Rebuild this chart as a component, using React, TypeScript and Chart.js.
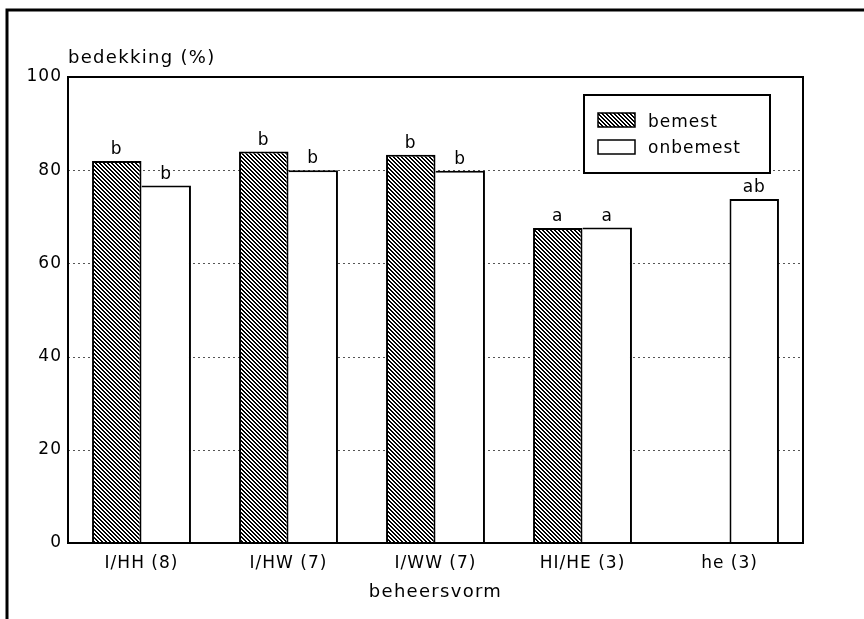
import React, { useEffect, useRef } from 'react';
import { Chart, registerables } from 'chart.js';

Chart.register(...registerables);

const categories = ['I/HH (8)', 'I/HW (7)', 'I/WW (7)', 'HI/HE (3)', 'he (3)'];
const bemest: (number | null)[] = [82.0, 84.0, 83.3, 67.6, null];
const onbemest: (number | null)[] = [76.7, 80.0, 79.9, 67.7, 73.8];
const bemestLetters = ['b', 'b', 'b', 'a', ''];
const onbemestLetters = ['b', 'b', 'b', 'a', 'ab'];
const yTicks = [0, 20, 40, 60, 80, 100];
const seriesNames = ['bemest', 'onbemest'];
const yTitle = 'bedekking (%)';
const xTitle = 'beheersvorm';

const FONT = '"DejaVu Sans", sans-serif';

function makeHatch(ctx: CanvasRenderingContext2D): CanvasPattern | string {
  const c = document.createElement('canvas');
  c.width = 4;
  c.height = 4;
  const g = c.getContext('2d');
  if (!g) return '#777';
  const img = g.createImageData(4, 4);
  for (let y = 0; y < 4; y++) {
    for (let x = 0; x < 4; x++) {
      const k = (((x - y) % 4) + 4) % 4;
      const v = k < 2 ? 0 : 255;
      const i = (y * 4 + x) * 4;
      img.data[i] = v;
      img.data[i + 1] = v;
      img.data[i + 2] = v;
      img.data[i + 3] = 255;
    }
  }
  g.putImageData(img, 0, 0);
  return ctx.createPattern(c, 'repeat') || '#777';
}

export default function App() {
  const ref = useRef<HTMLCanvasElement | null>(null);

  useEffect(() => {
    const canvas = ref.current;
    if (!canvas) return;
    const ctx0 = canvas.getContext('2d')!;
    const hatch = makeHatch(ctx0);

    const plugin = {
      id: 'custom',
      beforeUpdate(chart: any) {
        chart.ctx.letterSpacing = '1px';
      },
      beforeDraw(chart: any) {
        chart.ctx.letterSpacing = '1px';
      },
      beforeDatasetsDraw(chart: any) {
        const { ctx, chartArea } = chart;
        const ys = chart.scales.y;
        ctx.save();
        ctx.strokeStyle = '#555';
        ctx.lineWidth = 1;
        ctx.setLineDash([2, 3]);
        yTicks.forEach((v) => {
          if (v <= 0 || v >= 100) return;
          const y = Math.round(ys.getPixelForValue(v)) + 0.5;
          ctx.beginPath();
          ctx.moveTo(chartArea.left, y);
          ctx.lineTo(chartArea.right, y);
          ctx.stroke();
        });
        ctx.restore();
      },
      afterDatasetsDraw(chart: any) {
        const { ctx, chartArea } = chart;
        ctx.save();
        ctx.strokeStyle = '#000';
        ctx.lineWidth = 2;
        ctx.strokeRect(chartArea.left, chartArea.top, chartArea.right - chartArea.left, chartArea.bottom - chartArea.top);
        ctx.fillStyle = '#000';
        ctx.font = `17px ${FONT}`;
        ctx.letterSpacing = '1px';
        ctx.textAlign = 'center';
        ctx.textBaseline = 'alphabetic';
        const letterSets = [bemestLetters, onbemestLetters];
        const valueSets = [bemest, onbemest];
        [0, 1].forEach((di) => {
          const meta = chart.getDatasetMeta(di);
          meta.data.forEach((el: any, j: number) => {
            if (valueSets[di][j] == null) return;
            const t = letterSets[di][j];
            if (!t) return;
            ctx.fillText(t, el.x, el.y - 7);
          });
        });
        ctx.restore();
      },
      afterDraw(chart: any) {
        const { ctx, chartArea } = chart;
        ctx.save();
        ctx.letterSpacing = '1px';
        const lx = 584, ly = 95, lw = 186, lh = 78;
        ctx.fillStyle = '#fff';
        ctx.fillRect(lx, ly, lw, lh);
        ctx.strokeStyle = '#000';
        ctx.lineWidth = 2;
        ctx.strokeRect(lx, ly, lw, lh);
        const swatchFills = [chart.data.datasets[0].backgroundColor, chart.data.datasets[1].backgroundColor];
        const rowY = [113, 140];
        const baseY = [127, 153];
        ctx.font = `17px ${FONT}`;
        ctx.textAlign = 'left';
        ctx.textBaseline = 'alphabetic';
        seriesNames.forEach((name, i) => {
          ctx.fillStyle = swatchFills[i];
          ctx.fillRect(598, rowY[i], 37, 14);
          ctx.lineWidth = 1.5;
          ctx.strokeStyle = '#000';
          ctx.strokeRect(598, rowY[i], 37, 14);
          ctx.fillStyle = '#000';
          ctx.fillText(name, 648, baseY[i]);
        });
        ctx.font = `18px ${FONT}`;
        ctx.letterSpacing = '1.3px';
        ctx.textAlign = 'left';
        ctx.fillText(yTitle, chartArea.left, 63);
        ctx.textAlign = 'center';
        ctx.fillText(xTitle, (chartArea.left + chartArea.right) / 2, 597);
        ctx.lineWidth = 3;
        ctx.strokeStyle = '#000';
        ctx.beginPath();
        ctx.moveTo(7, 619);
        ctx.lineTo(7, 10);
        ctx.lineTo(864, 10);
        ctx.stroke();
        ctx.restore();
      },
    };

    const chart = new Chart(canvas, {
      type: 'bar',
      data: {
        labels: categories,
        datasets: [
          {
            label: seriesNames[0],
            data: bemest,
            backgroundColor: hatch as any,
            borderColor: '#000',
            borderWidth: { top: 2, left: 2, right: 2, bottom: 0 } as any,
            borderSkipped: false,
          },
          {
            label: seriesNames[1],
            data: onbemest,
            backgroundColor: '#ffffff',
            borderColor: '#000',
            borderWidth: ((c: any) => ({
              top: 2,
              right: 2,
              left: bemest[c.dataIndex] == null ? 2 : 0,
              bottom: 0,
            })) as any,
            borderSkipped: false,
          },
        ],
      },
      options: {
        responsive: false,
        animation: false,
        devicePixelRatio: 1,
        layout: { padding: { top: 77, right: 61, left: 0, bottom: 0 } },
        datasets: { bar: { categoryPercentage: 0.673, barPercentage: 1 } },
        plugins: {
          legend: { display: false },
          tooltip: { enabled: false },
          title: { display: false },
        },
        scales: {
          x: {
            type: 'category',
            grid: { display: false, drawTicks: false },
            border: { display: false },
            ticks: {
              color: '#000',
              font: { family: FONT, size: 17 },
              padding: 10,
              maxRotation: 0,
              autoSkip: false,
            },
            afterFit: (s: any) => {
              s.height = 76;
            },
          },
          y: {
            min: 0,
            max: 100,
            grid: { display: false, drawTicks: false },
            border: { display: false },
            ticks: {
              stepSize: 20,
              color: '#000',
              font: { family: FONT, size: 17 },
              padding: 6,
            },
            afterFit: (s: any) => {
              s.width = 68;
            },
          },
        },
      },
      plugins: [plugin],
    });

    return () => chart.destroy();
  }, []);

  return (
    <div style={{ position: 'fixed', left: 0, top: 0, width: 864, height: 619, background: '#fff' }}>
      <canvas ref={ref} width={864} height={619} style={{ width: 864, height: 619, display: 'block' }} />
    </div>
  );
}
